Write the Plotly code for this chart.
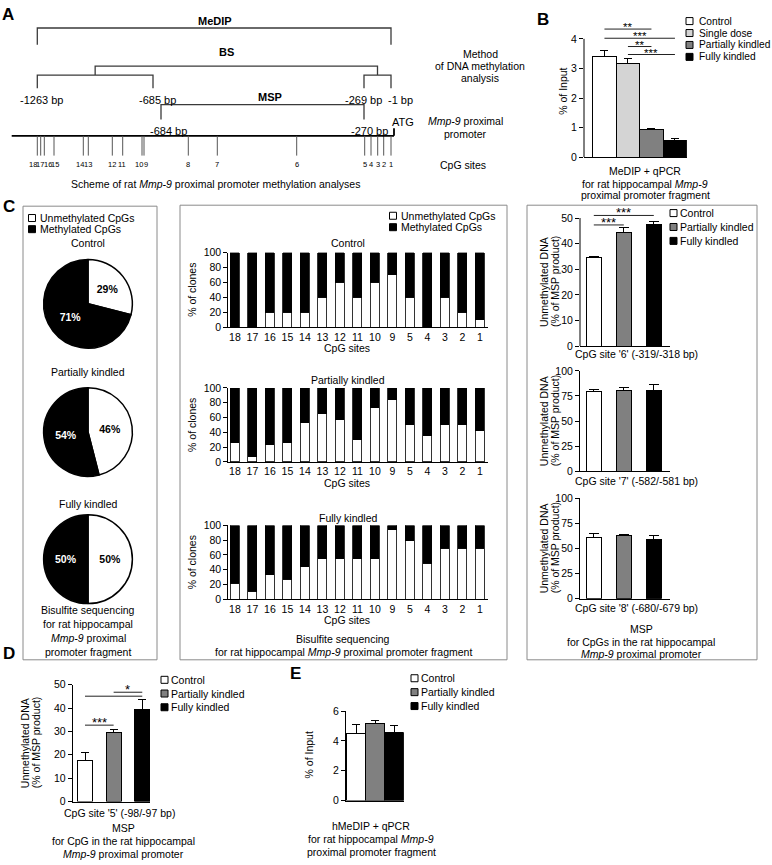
import plotly.graph_objects as go

W, H = 772, 865
FONT = "Liberation Sans, Arial, Helvetica, sans-serif"
NARROW = "Liberation Sans Narrow, Liberation Sans, Arial, sans-serif"

# ======================= DATA =======================
groups_b = ["Control", "Single dose", "Partially kindled", "Fully kindled"]
groups = ["Control", "Partially kindled", "Fully kindled"]
cpg_states = ["Unmethylated CpGs", "Methylated CpGs"]

# A: schematic (not to scale) of the rat Mmp-9 proximal promoter
cpg_labels = ["18", "17", "16", "15", "14", "13", "12", "11", "10", "9",
              "8", "7", "6", "5", "4", "3", "2", "1"]
cpg_pos = [37.3, 40.7, 44.3, 54.0, 83.3, 88.3, 112.3, 122.7, 142.0, 144.0,
           188.3, 217.3, 296.7, 364.7, 371.0, 377.7, 383.7, 391.0]
bp_names = ["-1263 bp", "-685 bp", "-684 bp", "-270 bp", "-269 bp", "-1 bp"]
bp_pos = [37.3, 153.0, 161.0, 364.0, 364.0, 391.0]
promoter_span = [11.7, 394.0]

# B: MeDIP + qPCR (% of input)
medip_mean = [3.40, 3.15, 0.95, 0.57]
medip_sem = [0.22, 0.20, 0.03, 0.07]
medip_sig = [(0, 2, "**"), (0, 3, "***"), (1, 2, "**"), (1, 3, "***")]

# C: pies (% of CpGs)
pie_unmeth = [29, 46, 50]
pie_meth = [71, 54, 50]

# C: bisulfite sequencing per CpG site (% unmethylated clones)
bs_sites = ["18", "17", "16", "15", "14", "13", "12", "11", "10", "9", "5", "4", "3", "2", "1"]
bs_unmeth_control = [0, 0, 20, 20, 20, 40, 60, 40, 60, 70, 40, 0, 40, 20, 10]
bs_unmeth_partial = [26, 7, 23, 26, 53, 65, 57, 30, 73, 84, 50, 35, 50, 50, 42]
bs_unmeth_fully = [22, 11, 33, 27, 44, 55, 55, 55, 55, 94, 79, 49, 69, 69, 69]

# C: MSP (unmethylated DNA, % of MSP product)
msp6_mean = [34.5, 44.2, 47.4]
msp6_sem = [0.3, 2.0, 1.3]
msp6_sig = [(0, 1, "***"), (0, 2, "***")]
msp7_mean = [79.5, 80.5, 80.0]
msp7_sem = [1.5, 2.5, 6.0]
msp8_mean = [61.0, 62.5, 59.0]
msp8_sem = [4.0, 1.5, 3.5]

# D: MSP CpG site 5
msp5_mean = [17.5, 29.5, 39.5]
msp5_sem = [3.7, 1.2, 4.2]
msp5_sig = [(0, 1, "***"), (0, 2, ""), (1, 2, "*")]

# E: hMeDIP + qPCR
hmedip_mean = [4.50, 5.15, 4.55]
hmedip_sem = [0.60, 0.25, 0.50]

# ======================= STYLE / LAYOUT =======================
colors = {"Control": "#ffffff", "Single dose": "#d4d4d4",
          "Partially kindled": "#808080", "Fully kindled": "#000000",
          "Unmethylated CpGs": "#ffffff", "Methylated CpGs": "#000000"}
FS = 10.5

fig = go.Figure()
shapes, annotations, axes = [], [], {}


def X(px):
    return px / W


def Y(py):
    return 1 - py / H


def txt(x, y, s, size=FS, xanchor="center", yanchor="middle", angle=0,
        family=FONT, color="black", xref="paper", yref="paper", yshift=0):
    if xref == "paper":
        x = X(x)
    if yref == "paper":
        y = Y(y)
    annotations.append(dict(x=x, y=y, xref=xref, yref=yref, text=s, showarrow=False,
                            xanchor=xanchor, yanchor=yanchor, textangle=angle, yshift=yshift,
                            font=dict(size=size, family=family, color=color)))


def add_axes(n, xpx, ypx, xr, yr, ytv=None, yline=True, xcat=False, xlabels=False):
    sx = "" if n == 1 else str(n)
    axes["xaxis" + sx] = dict(domain=[X(xpx[0]), X(xpx[1])], range=xr, anchor="y" + sx,
                              showgrid=False, zeroline=False, showline=True, linecolor="black",
                              linewidth=1, ticks="", showticklabels=xlabels,
                              tickfont=dict(size=FS, color="black", family=FONT),
                              fixedrange=True, type="category" if xcat else "linear")
    axes["yaxis" + sx] = dict(domain=[Y(ypx[1]), Y(ypx[0])], range=yr, anchor="x" + sx,
                              showgrid=False, zeroline=False, showline=yline, linecolor="black",
                              linewidth=1, ticks="outside", ticklen=4, tickwidth=1,
                              tickcolor="black", tickvals=ytv,
                              tickfont=dict(size=FS, color="black", family=FONT), fixedrange=True)


def partial_yline(n, xpx, y0, y1):
    shapes.append(dict(type="line", xref="paper", yref="y" + str(n), x0=X(xpx), x1=X(xpx),
                       y0=y0, y1=y1, line=dict(color="black", width=1)))


def group_bars(n, names, means, sems, width, capw=4):
    for i, (nm, m, s) in enumerate(zip(names, means, sems)):
        fig.add_trace(go.Bar(x=[i], y=[m], width=width, name=nm,
                             marker=dict(color=colors[nm], line=dict(color="black", width=1)),
                             error_y=dict(type="data", array=[s], arrayminus=[0], symmetric=False,
                                          color="black", thickness=1, width=capw),
                             xaxis="x" + str(n), yaxis="y" + str(n),
                             showlegend=False, hoverinfo="skip"))


def sig(n, items, heights, size=13, yshift=-7):
    for (a, b, lab), h in zip(items, heights):
        shapes.append(dict(type="line", xref="x" + str(n), yref="y" + str(n), x0=a, x1=b,
                           y0=h, y1=h, line=dict(color="#222222", width=1)))
        if lab:
            annotations.append(dict(x=(a + b) / 2, y=h, xref="x" + str(n), yref="y" + str(n),
                                    text=lab, showarrow=False, yanchor="bottom", yshift=yshift,
                                    font=dict(size=size, family=FONT, color="black")))


def legend(names, sq_x, txt_x, y0, dy, size=FS):
    xs, ys, cs = [], [], []
    for i, nm in enumerate(names):
        xs.append(sq_x)
        ys.append(y0 + i * dy)
        cs.append(colors[nm])
        txt(txt_x, y0 + i * dy, nm, size=size, xanchor="left")
    fig.add_trace(go.Scatter(x=xs, y=ys, mode="markers", xaxis="x11", yaxis="y11",
                             marker=dict(symbol="square", size=7, color=cs,
                                         line=dict(color="black", width=1)),
                             showlegend=False, hoverinfo="skip"))


def ytitle2(x1, x2, yc, l1="Unmethylated DNA", l2="(% of MSP product)"):
    txt(x1, yc, l1, angle=-90)
    txt(x2, yc, l2, angle=-90)


# canvas axis (pixel coordinates) for legend keys
axes["xaxis11"] = dict(domain=[0, 1], range=[0, W], visible=False, fixedrange=True)
axes["yaxis11"] = dict(domain=[0, 1], range=[H, 0], visible=False, fixedrange=True)

# ======================= PANEL A =======================
axes["xaxis"] = dict(domain=[0, X(540)], range=[0, 540], visible=False, fixedrange=True)
axes["yaxis"] = dict(domain=[Y(195), 1], range=[195, 0], visible=False, fixedrange=True)
LC = "#3a3a3a"
p = dict(zip(bp_names, bp_pos))


def bracket(a, b, top, bottom):
    return [a, a, b, b, None], [bottom, top, top, bottom, None]


bx, by = [], []
for (a, b, t, bt) in [(p["-1263 bp"], p["-1 bp"], 22.3, 39.3),
                      (p["-1263 bp"], p["-685 bp"], 70, 83.3),
                      (p["-269 bp"], p["-1 bp"], 70, 83.3),
                      ((p["-1263 bp"] + p["-685 bp"]) / 2, (p["-269 bp"] + p["-1 bp"]) / 2, 61, 70),
                      (p["-684 bp"], p["-270 bp"], 100, 115)]:
    xx, yy = bracket(a, b, t, bt)
    bx += xx
    by += yy
fig.add_trace(go.Scatter(x=bx, y=by, mode="lines", line=dict(color=LC, width=1.3),
                         xaxis="x", yaxis="y", showlegend=False, hoverinfo="skip"))
# promoter line
fig.add_trace(go.Scatter(x=promoter_span + [None, promoter_span[1], promoter_span[1]],
                         y=[131.7, 131.7, None, 124, 131.7], mode="lines",
                         line=dict(color="black", width=1.8), xaxis="x", yaxis="y",
                         showlegend=False, hoverinfo="skip"))
tx, ty = [], []
for c in cpg_pos:
    tx += [c, c, None]
    ty += [131.7, 151.7, None]
fig.add_trace(go.Scatter(x=tx, y=ty, mode="lines", line=dict(color="#555555", width=1),
                         xaxis="x", yaxis="y", showlegend=False, hoverinfo="skip"))
label_nudge = {"18": -4.8, "17": -0.7, "16": 3.2, "15": 1.0, "14": -3.3, "13": 0.0,
               "11": -0.4, "10": -3.5, "9": 2.0}
for lab, c in zip(cpg_labels, cpg_pos):
    txt(c + label_nudge.get(lab, 0), 161, lab, size=7.5, family=NARROW, xref="x", yref="y")

bp_label_xy = {"-1263 bp": (41.7, 95), "-685 bp": (157, 95), "-269 bp": (363, 95),
               "-1 bp": (400, 95), "-684 bp": (168, 126.7), "-270 bp": (369, 126.7)}
for nm in bp_names:
    lx, ly = bp_label_xy[nm]
    txt(lx, ly, nm, size=11, xref="x", yref="y")
txt(215, 15.7, "<b>MeDIP</b>", size=11, xref="x", yref="y")
txt(226, 46.7, "<b>BS</b>", size=11, xref="x", yref="y")
txt(270, 92.7, "<b>MSP</b>", size=11, xref="x", yref="y")
txt(402.7, 117.3, "ATG", size=11, xref="x", yref="y")
txt(480, 49, "Method", size=FS, xref="x", yref="y")
txt(480, 61, "of DNA methylation", size=FS, xref="x", yref="y")
txt(480, 73, "analysis", size=FS, xref="x", yref="y")
txt(465, 117, "<i>Mmp-9</i> proximal", size=FS, xref="x", yref="y")
txt(465, 129.5, "promoter", size=FS, xref="x", yref="y")
txt(463, 161, "CpG sites", size=FS, xref="x", yref="y")
txt(215, 181, "Scheme of rat <i>Mmp-9</i> proximal promoter methylation analyses", size=FS,
    xref="x", yref="y")
txt(8, 9, "<b>A</b>", size=17)

# ======================= PANEL B =======================
add_axes(2, (584, 686.7), (19.8, 153.3), [-0.87, 3.5], [0, 4.45], ytv=[0, 1, 2, 3, 4], yline=False)
partial_yline(2, 584, 0, 4)
group_bars(2, groups_b, medip_mean, medip_sem, 1.0, capw=4)
sig(2, medip_sig, [4.33, 4.02, 3.74, 3.47], size=11.5, yshift=-6)
txt(563, 87, "% of Input", angle=-90)
legend(groups_b, 689.5, 697, 15.3, 12.1, size=10.2)
txt(645, 167, "MeDIP + qPCR")
txt(645, 180, "for rat hippocampal <i>Mmp-9</i>")
txt(645, 192, "proximal promoter fragment")
txt(543, 14, "<b>B</b>", size=17)

# ======================= PANEL C =======================
for (x0, y0, x1, y1) in [(23, 203, 157, 663), (180, 202, 507, 663), (527, 202, 757, 663)]:
    shapes.append(dict(type="rect", xref="paper", yref="paper", x0=X(x0), x1=X(x1),
                       y0=Y(y1), y1=Y(y0), line=dict(color="#8a8a8a", width=1)))
txt(9, 203, "<b>C</b>", size=17)

# left: pies
legend(cpg_states, 32, 38, 215, 11.3)
cx, r = 88, 45
for g, u, m, cy, ty in zip(groups, pie_unmeth, pie_meth, [302, 432, 561], [240, 371, 505]):
    fig.add_trace(go.Pie(values=[u, m], labels=cpg_states, sort=False, direction="clockwise",
                         rotation=0, marker=dict(colors=[colors[s] for s in cpg_states],
                                                 line=dict(color="black", width=1.5)),
                         texttemplate="<b>%{percent:.0%}</b>", textposition="inside",
                         insidetextorientation="horizontal",
                         textfont=dict(color=["black", "white"], size=FS, family=FONT),
                         domain=dict(x=[X(cx - r), X(cx + r)], y=[Y(cy + r), Y(cy - r)]),
                         showlegend=False, hoverinfo="skip"))
    txt(cx, ty, g)
for yy, s in zip([612, 626.5, 641, 655],
                 ["Bisulfite sequencing", "for rat hippocampal", "<i>Mmp-9</i> proximal",
                  "promoter fragment"]):
    txt(cx, yy, s)

# middle: per-site bisulfite sequencing
legend(cpg_states, 393, 399, 212.7, 11.6)
for n, g, unmeth, (yt, yb), tty in zip([3, 4, 5], groups,
                                        [bs_unmeth_control, bs_unmeth_partial, bs_unmeth_fully],
                                        [(250, 325.7), (387.3, 462.3), (526.7, 601.7)],
                                        [240, 379.3, 519]):
    add_axes(n, (228.3, 488), (yt, yb), [-0.38, 14.46], [0, 100],
             ytv=[0, 20, 40, 60, 80, 100], xcat=True, xlabels=True)
    meth = [100 - v for v in unmeth]
    fig.add_trace(go.Bar(x=bs_sites, y=unmeth, width=0.51, name="Unmethylated CpGs",
                         marker=dict(color="white", line=dict(color="black", width=0.8)),
                         xaxis="x" + str(n), yaxis="y" + str(n), showlegend=False, hoverinfo="skip"))
    fig.add_trace(go.Bar(x=bs_sites, y=meth, width=0.51, name="Methylated CpGs",
                         marker=dict(color="black", line=dict(color="black", width=0.8)),
                         xaxis="x" + str(n), yaxis="y" + str(n), showlegend=False, hoverinfo="skip"))
    txt(348, tty, g)
    txt(347, yb + 21, "CpG sites")
    txt(192, (yt + yb) / 2, "% of clones", angle=-90)
txt(343, 642, "Bisulfite sequencing")
txt(343, 655, "for rat hippocampal <i>Mmp-9</i> proximal promoter fragment")

# right: MSP
legend(groups, 673.5, 677.5, 210, 14.1)
add_axes(6, (580, 670), (209.8, 345), [-0.46, 2.54], [0, 52],
         ytv=[0, 10, 20, 30, 40, 50], yline=False)
partial_yline(6, 580, 0, 50)
group_bars(6, groups, msp6_mean, msp6_sem, 0.5, capw=5)
sig(6, msp6_sig, [47.3, 51.0])
add_axes(7, (580, 670), (370, 471.7), [-0.46, 2.54], [0, 100], ytv=[0, 25, 50, 75, 100])
group_bars(7, groups, msp7_mean, msp7_sem, 0.5, capw=5)
add_axes(8, (580, 670), (499.3, 601), [-0.46, 2.54], [0, 100], ytv=[0, 25, 50, 75, 100])
group_bars(8, groups, msp8_mean, msp8_sem, 0.5, capw=5)
for yc, lab_y, lab in [(280, 353.3, "CpG site '6' (-319/-318 bp)"),
                       (421, 481.7, "CpG site '7' (-582/-581 bp)"),
                       (550, 610, "CpG site '8' (-680/-679 bp)")]:
    ytitle2(544, 555, yc)
    txt(636, lab_y, lab)
txt(641, 631.7, "MSP")
txt(641, 645, "for CpGs in the rat hippocampal")
txt(641, 657.5, "<i>Mmp-9</i> proximal promoter")

# ======================= PANEL D =======================
add_axes(9, (72.7, 150), (688.3, 806.7), [-0.43, 2.27], [0, 50], ytv=[0, 10, 20, 30, 40, 50])
group_bars(9, groups, msp5_mean, msp5_sem, 0.53, capw=4)
sig(9, msp5_sig, [32.7, 45.1, 46.8])
legend(groups, 164.5, 169, 683.3, 13.9)
ytitle2(25, 36, 747.5)
txt(119, 818, "CpG site '5' (-98/-97 bp)")
txt(123, 833.5, "MSP")
txt(123, 847, "for CpG in the rat hippocampal")
txt(123, 860, "<i>Mmp-9</i> proximal promoter")
txt(9, 657, "<b>D</b>", size=17)

# ======================= PANEL E =======================
add_axes(10, (346, 403.7), (715, 805.7), [-0.54, 2.5], [0, 6], ytv=[0, 2, 4, 6])
group_bars(10, groups, hmedip_mean, hmedip_sem, 1.0, capw=4)
legend(groups, 414.5, 419, 681.7, 14.1)
txt(309, 760, "% of Input", angle=-90)
txt(371, 831.7, "hMeDIP + qPCR")
txt(371, 845, "for rat hippocampal <i>Mmp-9</i>")
txt(371, 858.3, "proximal promoter fragment")
txt(295, 677, "<b>E</b>", size=17)

fig.update_layout(width=W, height=H, autosize=False, margin=dict(l=0, r=0, t=0, b=0),
                  paper_bgcolor="white", plot_bgcolor="rgba(0,0,0,0)", barmode="stack",
                  font=dict(family=FONT, size=FS, color="black"), showlegend=False,
                  shapes=shapes, annotations=annotations, **axes)

fig.write_html("out.html", include_plotlyjs=True, full_html=True,
               config={"displayModeBar": False, "staticPlot": True},
               post_script="document.body.style.margin='0';document.body.style.overflow='hidden';")
